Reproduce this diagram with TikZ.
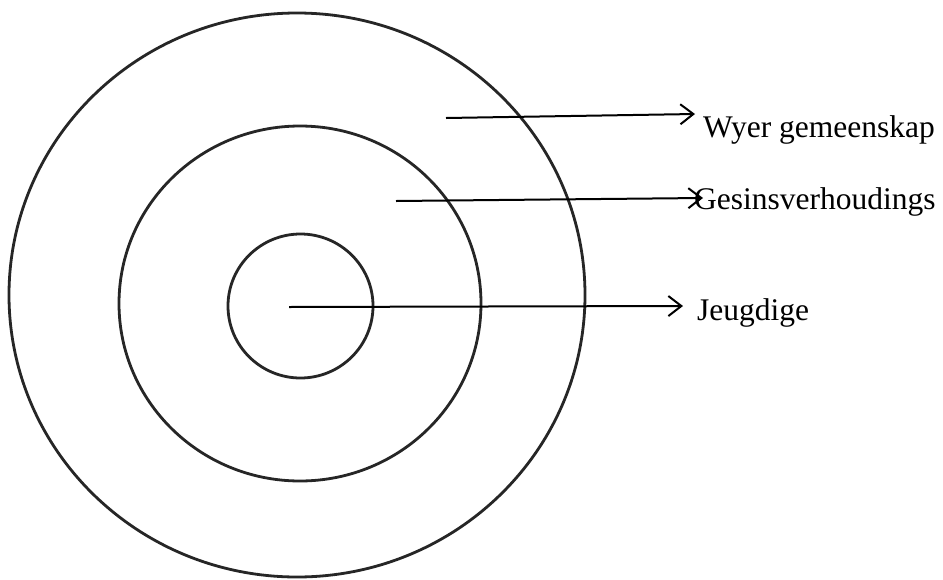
\documentclass[tikz,border=0pt]{standalone}
\usepackage{fontspec}
\setmainfont{Liberation Serif}
\usetikzlibrary{shapes.geometric,arrows.meta}
\begin{document}
\begin{tikzpicture}[x=1pt,y=-1pt,
  ring/.style={ellipse,draw=black!85,line width=2.8pt,inner sep=0pt,outer sep=0pt},
  lbl/.style={anchor=base west,inner sep=0pt,font=\fontsize{31.5}{38}\selectfont},
  pointer/.style={line width=2pt,-{Straight Barb[length=13pt,width=20pt,line width=2pt]}}]
\useasboundingbox[fill=white] (0,0) rectangle (943,579);
\node[ring,minimum width=576pt,minimum height=564pt] (outer) at (297,295) {};
\node[ring,minimum width=362pt,minimum height=355pt] (middle) at (300,303.5) {};
\node[ring,minimum width=145pt,minimum height=144pt] (inner) at (300.5,306) {};
\node[lbl] (wyer) at (703,137) {Wyer gemeenskap};
\node[lbl] (gesin) at (694,209) {Gesinsverhoudings};
\node[lbl] (jeug) at (697,320) {Jeugdige};
\coordinate (s1) at (446,118); \coordinate (e1) at (695,114);
\coordinate (s2) at (396,201); \coordinate (e2) at (703,198);
\coordinate (s3) at (289,307); \coordinate (e3) at (683,306);
\draw[pointer] (s1) -- (e1);
\draw[pointer] (s2) -- (e2);
\draw[pointer] (s3) -- (e3);
\end{tikzpicture}
\end{document}
